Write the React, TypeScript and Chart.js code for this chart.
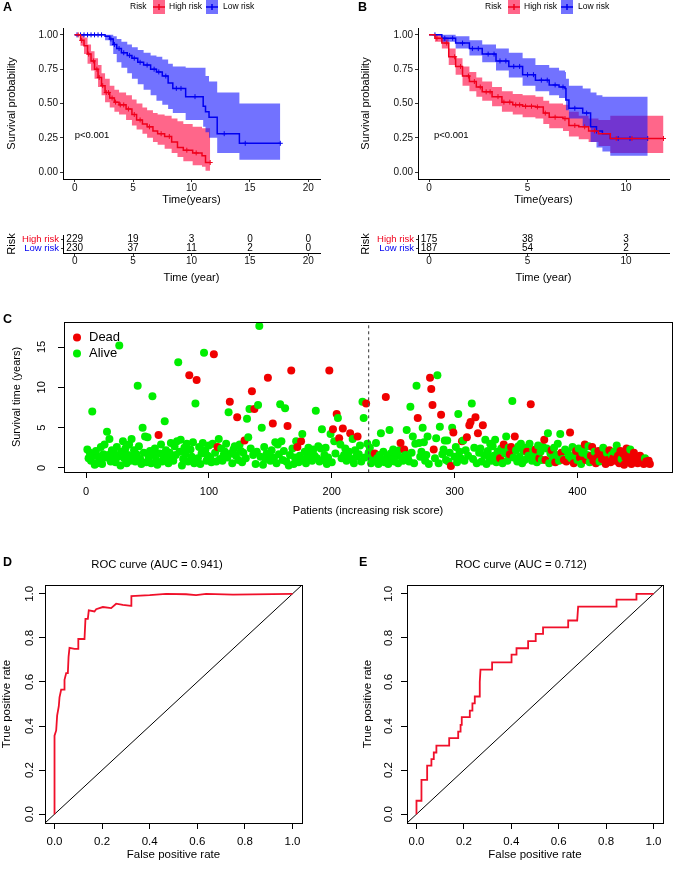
import React, { useEffect, useRef } from "react";
import { Chart, registerables } from "chart.js";

Chart.register(...registerables);

const FONT = '"Liberation Sans", Arial, Helvetica, sans-serif';
Chart.defaults.font.family = FONT;
Chart.defaults.color = "#000";

const RED = "#f0001c";
const BLUE = "#0000f0";
const RED_BAND = "rgba(255,0,60,0.6)";
const BLUE_BAND = "rgba(20,20,255,0.6)";
const DOT_RED = "#f00000";
const DOT_GREEN = "#00ee00";

// ---------- Panel A: Kaplan-Meier (training set) ----------
const aHighTime = [0, 0.5, 0.8, 1.1, 1.4, 1.7, 2.0, 2.3, 2.6, 3.0, 3.4, 3.8, 4.4, 4.9, 5.3, 5.8, 6.2, 6.7, 7.1, 7.7, 8.3, 8.8, 9.3, 10.1, 10.9, 11.2, 11.6];
const aHighSurv = [1, 0.96, 0.92, 0.86, 0.81, 0.75, 0.69, 0.63, 0.58, 0.54, 0.51, 0.49, 0.46, 0.42, 0.38, 0.35, 0.33, 0.3, 0.28, 0.26, 0.22, 0.18, 0.16, 0.14, 0.12, 0.07, 0.07];
const aHighUpper = [1, 1.0, 0.98, 0.93, 0.88, 0.83, 0.78, 0.72, 0.68, 0.63, 0.6, 0.58, 0.56, 0.53, 0.5, 0.47, 0.45, 0.43, 0.42, 0.41, 0.39, 0.37, 0.35, 0.33, 0.32, 0.32, 0.32];
const aHighLower = [1, 0.92, 0.86, 0.79, 0.74, 0.68, 0.62, 0.56, 0.51, 0.47, 0.44, 0.42, 0.38, 0.34, 0.31, 0.28, 0.25, 0.22, 0.2, 0.17, 0.14, 0.11, 0.08, 0.05, 0.04, 0.01, 0.01];
const aHighCensor = [0.3, 0.6, 1.2, 1.6, 1.9, 2.1, 2.4, 2.7, 2.9, 3.2, 3.5, 3.9, 4.2, 4.6, 5.1, 5.6, 6.4, 7.4, 8.1, 9.6, 10.4, 11.6];

const aLowTime = [0, 2.6, 3.0, 3.3, 3.6, 4.0, 4.5, 4.9, 5.4, 5.9, 6.5, 7.0, 7.5, 8.0, 8.4, 9.5, 11.0, 11.2, 11.5, 12.2, 14.1, 17.6];
const aLowSurv = [1, 0.99, 0.97, 0.93, 0.9, 0.87, 0.85, 0.83, 0.8, 0.78, 0.75, 0.73, 0.7, 0.65, 0.61, 0.55, 0.48, 0.44, 0.4, 0.28, 0.21, 0.21];
const aLowUpper = [1, 1, 1, 0.99, 0.97, 0.95, 0.93, 0.91, 0.89, 0.87, 0.85, 0.84, 0.82, 0.79, 0.77, 0.76, 0.76, 0.7, 0.66, 0.58, 0.5, 0.5];
const aLowLower = [1, 0.96, 0.92, 0.86, 0.8, 0.76, 0.72, 0.68, 0.64, 0.6, 0.56, 0.52, 0.49, 0.46, 0.43, 0.38, 0.33, 0.29, 0.25, 0.14, 0.09, 0.09];
const aLowCensor = [0.2, 0.5, 0.8, 1.1, 1.4, 1.7, 2.0, 2.3, 3.1, 3.4, 3.8, 4.2, 4.7, 5.1, 5.6, 6.2, 6.8, 7.2, 7.8, 8.7, 9.1, 10.3, 12.8, 14.6, 17.6];

const riskTimesA = [0, 5, 10, 15, 20];
const riskAHigh = [229, 19, 3, 0, 0];
const riskALow = [230, 37, 11, 2, 0];

// ---------- Panel B: Kaplan-Meier (validation set) ----------
const bHighTime = [0, 0.3, 0.65, 1.0, 1.35, 1.7, 2.05, 2.4, 2.7, 3.2, 3.7, 4.25, 4.75, 5.4, 5.8, 6.1, 6.8, 7.1, 7.6, 8.1, 8.6, 9.2, 11.9];
const bHighSurv = [1, 0.975, 0.94, 0.84, 0.77, 0.7, 0.66, 0.62, 0.585, 0.55, 0.51, 0.49, 0.48, 0.475, 0.43, 0.4, 0.39, 0.34, 0.33, 0.3, 0.28, 0.245, 0.245];
const bHighUpper = [1, 1.0, 0.98, 0.9, 0.83, 0.77, 0.73, 0.69, 0.66, 0.62, 0.59, 0.57, 0.56, 0.55, 0.52, 0.5, 0.49, 0.44, 0.41, 0.39, 0.38, 0.41, 0.41];
const bHighLower = [1, 0.95, 0.9, 0.78, 0.71, 0.63, 0.59, 0.55, 0.52, 0.48, 0.44, 0.42, 0.4, 0.39, 0.35, 0.32, 0.3, 0.26, 0.24, 0.22, 0.19, 0.14, 0.14];
const bHighCensor = [0.4, 0.9, 1.3, 1.6, 2.0, 2.3, 2.6, 2.9, 3.1, 3.5, 3.8, 4.1, 4.4, 4.6, 4.9, 5.2, 5.5, 5.9, 6.4, 6.9, 7.4, 7.9, 8.4, 9.5, 10.3, 11.9];

const bLowTime = [0, 0.65, 1.35, 2.05, 2.7, 3.4, 4.05, 4.75, 5.4, 6.1, 6.6, 6.9, 6.95, 7.1, 7.8, 8.2, 8.5, 8.8, 9.2, 11.1];
const bLowSurv = [1, 0.975, 0.94, 0.9, 0.86, 0.81, 0.77, 0.71, 0.67, 0.635, 0.62, 0.61, 0.525, 0.465, 0.43, 0.33, 0.3, 0.28, 0.245, 0.245];
const bLowUpper = [1, 1.0, 0.99, 0.96, 0.93, 0.9, 0.87, 0.83, 0.78, 0.76, 0.74, 0.73, 0.68, 0.63, 0.61, 0.58, 0.56, 0.55, 0.55, 0.55];
const bLowLower = [1, 0.95, 0.9, 0.85, 0.8, 0.74, 0.69, 0.63, 0.59, 0.56, 0.54, 0.52, 0.45, 0.39, 0.33, 0.22, 0.18, 0.15, 0.12, 0.11];
const bLowCensor = [0.3, 0.8, 1.2, 1.7, 2.2, 2.5, 3.0, 3.3, 3.6, 3.9, 4.3, 4.6, 5.0, 5.3, 5.7, 6.0, 6.4, 6.8, 7.4, 8.0, 8.5, 9.6, 10.2, 11.1];

const riskTimesB = [0, 5, 10];
const riskBHigh = [175, 38, 3];
const riskBLow = [187, 54, 2];

// ---------- Panel C: survival status by patient (ordered by risk score) ----------
const survTime001 = [
  2.3, 1.2, 1.9, 0.9, 7.0, 1.5, 0.4, 2.1, 0.6, 1.4,
  1.1, 2.6, 0.5, 1.7, 2.9, 1.3, 4.5, 1.6, 3.6, 0.8,
  2.2, 1.0, 1.8, 0.7, 2.6, 1.4, 15.2, 0.3, 2.0, 3.3,
  1.2, 2.4, 0.6, 1.6, 2.9, 0.9, 3.6, 1.4, 2.2, 0.8,
  1.7, 10.2, 2.7, 1.1, 0.5, 5.0, 1.9, 3.9, 0.7, 3.8,
  1.3, 2.1, 0.6, 8.9, 1.6, 2.4, 1.0, 0.4, 4.1, 1.8,
  2.9, 0.8, 1.5, 5.8, 2.2, 1.2, 0.6, 1.9, 3.1, 1.4,
  0.9, 2.7, 1.6, 3.3, 13.1, 2.0, 3.5, 0.3, 1.1, 2.5,
  1.7, 3.0, 0.8, 11.5, 2.3, 1.4, 3.2, 0.6, 8.0, 10.9,
  1.2, 2.6, 0.5, 1.8, 3.1, 14.3, 2.2, 0.9, 1.5, 2.8,
];
const survTime101 = [
  1.3, 0.7, 3.0, 14.1, 1.9, 0.8, 2.6, 3.6, 1.1, 2.4,
  0.9, 1.6, 2.0, 3.0, 1.3, 6.9, 8.2, 1.8, 0.6, 2.3,
  2.7, 1.5, 6.3, 1.0, 2.9, 2.1, 0.7, 1.9, 3.4, 1.2,
  6.1, 3.8, 7.3, 2.4, 9.5, 1.6, 7.3, 0.5, 2.0, 7.8,
  17.6, 1.4, 5.0, 0.4, 2.6, 1.1, 1.8, 11.2, 1.5, 0.9,
  2.2, 5.5, 1.3, 3.2, 0.6, 2.9, 1.7, 7.9, 3.3, 1.0,
  2.1, 7.4, 0.8, 5.2, 0.3, 1.6, 12.1, 2.4, 0.5, 1.3,
  3.3, 2.6, 0.7, 1.5, 3.3, 4.2, 1.0, 2.0, 0.6, 1.4,
  2.5, 1.1, 1.8, 0.9, 2.3, 1.5, 7.1, 1.2, 2.7, 0.8,
  2.4, 4.8, 1.0, 1.6, 2.5, 0.5, 1.3, 12.1, 4.2, 0.7,
];
const survTime201 = [
  4.8, 3.3, 1.8, 6.7, 6.2, 3.7, 2.9, 1.2, 4.9, 1.6,
  2.4, 0.9, 1.5, 2.0, 4.3, 1.1, 3.6, 0.6, 2.2, 1.4,
  3.9, 1.7, 2.8, 0.8, 8.2, 6.2, 1.3, 8.0, 3.0, 1.9,
  2.5, 0.6, 1.4, 0.9, 1.8, 3.1, 1.2, 0.5, 1.6, 4.3,
  1.0, 2.0, 0.7, 8.8, 1.4, 0.5, 4.7, 1.8, 1.1, 2.3,
  0.8, 1.5, 1.9, 0.6, 2.2, 3.1, 1.3, 0.9, 2.3, 1.6,
  4.7, 1.2, 0.8, 7.6, 1.9, 3.9, 0.6, 3.0, 10.2, 6.2,
  3.1, 1.4, 2.0, 5.0, 3.2, 0.9, 1.6, 3.9, 0.5, 11.2,
  9.8, 7.8, 2.3, 1.2, 3.7, 11.5, 0.6, 5.1, 6.6, 1.7,
  2.3, 3.4, 1.0, 3.4, 0.8, 1.9, 0.25, 5.0, 4.4, 1.4,
];
const survTime301 = [
  2.6, 0.7, 6.7, 2.0, 1.2, 3.3, 3.4, 0.9, 2.2, 3.8,
  1.5, 5.3, 5.7, 8.0, 1.1, 2.5, 6.3, 0.6, 4.3, 1.9,
  2.4, 0.8, 5.3, 1.6, 3.5, 0.5, 2.1, 1.3, 3.0, 0.9,
  2.7, 1.5, 3.5, 0.7, 2.0, 1.1, 1.2, 2.4, 0.6, 2.9,
  1.8, 3.9, 0.9, 2.5, 1.7, 2.6, 8.3, 1.3, 3.9, 2.2,
  0.8, 2.7, 1.4, 3.0, 0.6, 2.1, 1.0, 2.5, 2.0, 1.5,
  3.0, 7.9, 0.9, 2.2, 1.6, 2.3, 0.7, 2.8, 1.2, 2.0,
  1.0, 2.6, 3.5, 1.0, 2.4, 4.3, 0.6, 1.8, 2.2, 1.3,
  2.5, 0.7, 1.6, 3.0, 0.9, 4.2, 1.9, 1.1, 1.0, 2.3,
  0.8, 2.0, 1.5, 4.4, 1.2, 2.6, 0.6, 1.7, 2.1, 1.0,
];
const survTime401 = [
  2.4, 1.3, 0.5, 1.9, 2.2, 2.9, 1.0, 1.6, 2.7, 0.7,
  1.5, 2.6, 0.9, 2.0, 0.6, 1.3, 2.1, 0.8, 1.7, 1.1,
  2.5, 1.4, 0.5, 1.9, 1.0, 2.2, 0.7, 1.6, 1.2, 2.0,
  0.9, 2.8, 1.5, 0.6, 2.1, 1.1, 1.8, 0.4, 1.3, 2.4,
  0.8, 1.6, 2.3, 0.5, 1.2, 1.9, 0.9, 1.4, 0.6, 1.1,
  1.5, 0.7, 1.0, 0.5, 1.2, 0.8, 0.6, 0.9, 0.5,
];
const deadPatients = [
  59, 84, 90, 104, 107, 117, 123, 129, 135, 137, 148, 152, 164, 167, 172, 175, 198, 201, 204, 206,
  209, 215, 221, 228, 235, 244, 256, 259, 270, 280, 281, 282, 283, 289, 297, 299, 306, 310, 312, 313,
  317, 319, 323, 337, 340, 345, 346, 349, 359, 362, 366, 369, 373, 374, 379, 382, 387, 389, 391, 394,
  397, 399, 402, 406, 407, 411, 412, 413, 415, 416, 417, 419, 420, 422, 423, 425, 426, 427, 429, 431,
  433, 434, 435, 437, 438, 439, 440, 441, 442, 444, 445, 446, 447, 448, 449, 450, 451, 452, 453, 454,
  456, 457, 458, 459,
];
const riskCutoff = 230;
const cXTicks = [0, 100, 200, 300, 400];
const cYTicks = [0, 5, 10, 15];

// ---------- Panels D / E: ROC ----------
const dFpr = [0, 0, 0.007, 0.011, 0.018, 0.021, 0.028, 0.042, 0.042, 0.049, 0.056, 0.059, 0.063, 0.084, 0.1, 0.1, 0.126, 0.13, 0.14, 0.144, 0.168, 0.175, 0.203, 0.238, 0.259, 0.287, 0.322, 0.323, 0.4, 0.469, 0.553, 0.595, 0.637, 0.75, 1.0];
const dTpr = [0, 0.356, 0.38, 0.447, 0.49, 0.53, 0.565, 0.565, 0.61, 0.64, 0.64, 0.714, 0.755, 0.75, 0.75, 0.795, 0.795, 0.886, 0.886, 0.925, 0.92, 0.93, 0.94, 0.935, 0.955, 0.95, 0.945, 0.99, 0.994, 1.0, 0.998, 0.994, 1.0, 0.996, 1.0];
const eFpr = [0, 0, 0.021, 0.021, 0.045, 0.045, 0.063, 0.063, 0.073, 0.073, 0.084, 0.084, 0.138, 0.138, 0.176, 0.176, 0.186, 0.186, 0.191, 0.191, 0.225, 0.225, 0.236, 0.236, 0.246, 0.246, 0.267, 0.267, 0.27, 0.319, 0.319, 0.401, 0.401, 0.422, 0.422, 0.471, 0.471, 0.503, 0.503, 0.534, 0.534, 0.64, 0.64, 0.678, 0.682, 0.844, 0.844, 0.928, 0.928, 1.0];
const eTpr = [0, 0.061, 0.061, 0.156, 0.156, 0.22, 0.22, 0.25, 0.25, 0.28, 0.28, 0.311, 0.311, 0.345, 0.345, 0.375, 0.375, 0.405, 0.405, 0.44, 0.44, 0.47, 0.47, 0.503, 0.503, 0.534, 0.534, 0.6, 0.656, 0.656, 0.689, 0.689, 0.724, 0.724, 0.753, 0.753, 0.785, 0.785, 0.818, 0.818, 0.848, 0.848, 0.879, 0.879, 0.942, 0.942, 0.974, 0.974, 1.0, 1.0];
const rocTicks = [0, 0.2, 0.4, 0.6, 0.8, 1.0];

// ---------- helpers ----------
type Pt = { x: number; y: number };
const pts = (xs: number[], ys: number[]): Pt[] => xs.map((x, i) => ({ x, y: ys[i] }));
const stepAt = (ts: number[], ss: number[], t: number) => {
  let v = ss[0];
  for (let i = 0; i < ts.length; i++) if (ts[i] <= t) v = ss[i];
  return v;
};
const fixedTicks = (values: number[]) => (ax: any) => {
  ax.ticks = values.map((v) => ({ value: v }));
};

function drawText(ctx: CanvasRenderingContext2D, text: string, x: number, y: number, o: any = {}) {
  ctx.save();
  ctx.font = `${o.weight || "normal"} ${o.size || 11}px ${FONT}`;
  ctx.fillStyle = o.color || "#000";
  ctx.textAlign = o.align || "left";
  ctx.textBaseline = o.baseline || "middle";
  ctx.translate(x, y);
  if (o.rotate) ctx.rotate(o.rotate);
  ctx.fillText(text, 0, 0);
  ctx.restore();
}

type Group = { time: number[]; surv: number[]; upper: number[]; lower: number[]; censor: number[]; color: string; band: string };

const ggGrid = { display: true, drawOnChartArea: false, drawTicks: true, tickLength: 3, tickColor: "#333", tickWidth: 1 };
const ggBorder = { display: true, color: "#000", width: 1 };

function kmConfig(c: {
  high: Group; low: Group; xMin: number; xMax: number; xTicks: number[]; yWidth: number; yTitlePad: number;
  padRight: number; letter: string; letterX: number; legendX: number; pX: number;
}): any {
  const lineDs = (g: Group) => ({ data: pts(g.time, g.surv), stepped: true, borderColor: g.color, borderWidth: 1.5, pointRadius: 0, fill: false });
  const censorDs = (g: Group) => ({
    data: g.censor.map((t) => ({ x: t, y: stepAt(g.time, g.surv, t) })),
    showLine: false, pointStyle: "cross", pointRadius: 2.5, borderColor: g.color, pointBorderWidth: 1, borderWidth: 1,
  });
  const upperDs = (g: Group) => ({ data: pts(g.time, g.upper), stepped: true, borderColor: "transparent", borderWidth: 0, pointRadius: 0, fill: "+1", backgroundColor: g.band });
  const lowerDs = (g: Group) => ({ data: pts(g.time, g.lower), stepped: true, borderColor: "transparent", borderWidth: 0, pointRadius: 0, fill: false });

  const deco = {
    id: "kmDeco",
    afterDraw(chart: any) {
      const ctx = chart.ctx as CanvasRenderingContext2D;
      drawText(ctx, c.letter, c.letterX, 8, { size: 12.5, weight: "bold" });
      const x0 = c.legendX;
      drawText(ctx, "Risk", x0, 7, { size: 8.5 });
      const sw = (x: number, g: Group) => {
        ctx.save();
        ctx.fillStyle = g.band;
        ctx.fillRect(x, 0, 12, 14);
        ctx.strokeStyle = g.color;
        ctx.lineWidth = 1.5;
        ctx.beginPath();
        ctx.moveTo(x, 7);
        ctx.lineTo(x + 12, 7);
        ctx.moveTo(x + 6, 4);
        ctx.lineTo(x + 6, 10);
        ctx.stroke();
        ctx.restore();
      };
      sw(x0 + 23, c.high);
      drawText(ctx, "High risk", x0 + 39, 7, { size: 8.5 });
      sw(x0 + 76, c.low);
      drawText(ctx, "Low risk", x0 + 93, 7, { size: 8.5 });
      const xs = chart.scales.x, ys = chart.scales.y;
      drawText(ctx, "p<0.001", xs.getPixelForValue(c.pX), ys.getPixelForValue(0.27), { size: 9.5 });
    },
  };

  return {
    type: "line",
    data: {
      datasets: [lineDs(c.high), lineDs(c.low), censorDs(c.high), censorDs(c.low), upperDs(c.low), lowerDs(c.low), upperDs(c.high), lowerDs(c.high)],
    },
    options: {
      responsive: false, animation: false, devicePixelRatio: 1, events: [],
      layout: { padding: { top: 28, right: c.padRight, left: 0, bottom: 0 } },
      plugins: { legend: { display: false }, tooltip: { enabled: false } },
      scales: {
        x: {
          type: "linear", min: c.xMin, max: c.xMax,
          afterBuildTicks: fixedTicks(c.xTicks),
          afterFit: (s: any) => { s.height = 31; },
          grid: ggGrid, border: ggBorder,
          ticks: { font: { size: 10 }, color: "#111", padding: 0, autoSkip: false, maxRotation: 0 },
          title: { display: true, text: "Time(years)", font: { size: 11 }, color: "#000", padding: { top: 0, bottom: 3.4 } },
        },
        y: {
          type: "linear", min: -0.05, max: 1.05,
          afterBuildTicks: fixedTicks([0, 0.25, 0.5, 0.75, 1]),
          afterFit: (s: any) => { s.width = c.yWidth; },
          grid: ggGrid, border: ggBorder,
          ticks: { font: { size: 10 }, color: "#111", padding: 2, autoSkip: false, callback: (v: any) => Number(v).toFixed(2) },
          title: { display: true, text: "Survival probability", font: { size: 11 }, color: "#000", padding: { top: c.yTitlePad, bottom: 0 } },
        },
      },
    },
    plugins: [deco],
  };
}

function tableConfig(c: { times: number[]; high: number[]; low: number[]; xMin: number; xMax: number; yWidth: number; yTitlePad: number; padRight: number }): any {
  const counts = [c.high, c.low];
  const deco = {
    id: "tblDeco",
    afterDatasetsDraw(chart: any) {
      const ctx = chart.ctx as CanvasRenderingContext2D;
      [0, 1].forEach((di) => {
        chart.getDatasetMeta(di).data.forEach((el: any, j: number) => {
          drawText(ctx, String(counts[di][j]), el.x, el.y, { size: 10, align: "center" });
        });
      });
    },
  };
  return {
    type: "scatter",
    data: {
      datasets: [
        { data: c.times.map((t) => ({ x: t, y: "High risk" })), pointRadius: 0 },
        { data: c.times.map((t) => ({ x: t, y: "Low risk" })), pointRadius: 0 },
      ],
    },
    options: {
      responsive: false, animation: false, devicePixelRatio: 1, events: [],
      layout: { padding: { top: 25, right: c.padRight, left: 0, bottom: 0 } },
      plugins: { legend: { display: false }, tooltip: { enabled: false } },
      scales: {
        x: {
          type: "linear", min: c.xMin, max: c.xMax,
          afterBuildTicks: fixedTicks(c.times),
          afterFit: (s: any) => { s.height = 37; },
          grid: ggGrid, border: ggBorder,
          ticks: { font: { size: 10 }, color: "#111", padding: -1, autoSkip: false, maxRotation: 0 },
          title: { display: true, text: "Time (year)", font: { size: 11 }, color: "#000", padding: { top: 0, bottom: 5.4 } },
        },
        y: {
          type: "category", labels: ["High risk", "Low risk"], offset: true,
          afterFit: (s: any) => { s.width = c.yWidth; },
          grid: { ...ggGrid, offset: false, tickLength: 2 }, border: ggBorder,
          ticks: { font: { size: 9.5 }, padding: 2, autoSkip: false, color: (ctx: any) => (ctx.index === 0 ? RED : BLUE) },
          title: { display: true, text: "Risk", font: { size: 11 }, color: "#000", padding: { top: c.yTitlePad, bottom: 0 } },
        },
      },
    },
    plugins: [deco],
  };
}

const rGrid = { display: true, drawOnChartArea: false, drawTicks: true, tickLength: 6, tickColor: "#000", tickWidth: 1 };

const boxPlugin = {
  id: "rBox",
  afterDraw(chart: any) {
    const { left, top, right, bottom } = chart.chartArea;
    const ctx = chart.ctx as CanvasRenderingContext2D;
    ctx.save();
    ctx.strokeStyle = "#000";
    ctx.lineWidth = 1;
    ctx.strokeRect(Math.round(left) + 0.5, Math.round(top) + 0.5, Math.round(right - left), Math.round(bottom - top));
    ctx.restore();
  },
};

function rYLabelsPlugin(values: number[], fmt: (v: number) => string, x: number, size: number) {
  return {
    id: "rYLabels",
    afterDraw(chart: any) {
      const ys = chart.scales.y;
      values.forEach((v) => drawText(chart.ctx, fmt(v), x, ys.getPixelForValue(v), { size, align: "center", rotate: -Math.PI / 2 }));
    },
  };
}

function scatterConfig(): any {
  const times = [...survTime001, ...survTime101, ...survTime201, ...survTime301, ...survTime401];
  const deadSet = new Set(deadPatients);
  const colors = times.map((_, i) => (deadSet.has(i + 1) ? DOT_RED : DOT_GREEN));
  const deco = {
    id: "cDeco",
    afterDraw(chart: any) {
      const ctx = chart.ctx as CanvasRenderingContext2D;
      drawText(ctx, "C", 3, 20, { size: 12.5, weight: "bold" });
      const items: [string, string, number][] = [["Dead", DOT_RED, 37.5], ["Alive", DOT_GREEN, 53.5]];
      items.forEach(([label, col, y]) => {
        ctx.save();
        ctx.fillStyle = col;
        ctx.beginPath();
        ctx.arc(77, y, 4, 0, Math.PI * 2);
        ctx.fill();
        ctx.restore();
        drawText(ctx, label, 89, y, { size: 13 });
      });
    },
  };
  return {
    type: "scatter",
    data: {
      datasets: [
        { type: "line", data: [{ x: riskCutoff, y: -5 }, { x: riskCutoff, y: 30 }], borderColor: "#555", borderDash: [3, 3], borderWidth: 1.2, pointRadius: 0, clip: 0, fill: false },
        { data: times.map((t, i) => ({ x: i + 1, y: t })), backgroundColor: colors, pointRadius: 4, borderWidth: 0, pointBorderWidth: 0 },
      ],
    },
    options: {
      responsive: false, animation: false, devicePixelRatio: 1, events: [],
      layout: { padding: { top: 22, right: 3, left: 0, bottom: 0 } },
      plugins: { legend: { display: false }, tooltip: { enabled: false } },
      scales: {
        x: {
          type: "linear", min: -18, max: 477,
          afterBuildTicks: fixedTicks(cXTicks),
          afterFit: (s: any) => { s.height = 48; },
          grid: rGrid, border: { display: false },
          ticks: { font: { size: 11 }, color: "#000", padding: 7.4, autoSkip: false, maxRotation: 0 },
          title: { display: true, text: "Patients (increasing risk score)", font: { size: 11 }, color: "#000", padding: { top: 0, bottom: 2.4 } },
        },
        y: {
          type: "linear", min: -0.5, max: 18.1,
          afterBuildTicks: fixedTicks(cYTicks),
          afterFit: (s: any) => { s.width = 64; },
          grid: rGrid, border: { display: false },
          ticks: { display: false },
          title: { display: true, text: "Survival time (years)", font: { size: 11 }, color: "#000", padding: { top: 10.4, bottom: 0 } },
        },
      },
    },
    plugins: [boxPlugin, rYLabelsPlugin(cYTicks, (v) => String(v), 42, 11), deco],
  };
}

function rocConfig(c: { fpr: number[]; tpr: number[]; auc: string; letter: string; letterX: number; titleX: number; yWidth: number; padRight: number; yTitlePad: number; yLabelX: number }): any {
  const deco = {
    id: "rocDeco",
    afterDraw(chart: any) {
      const ctx = chart.ctx as CanvasRenderingContext2D;
      drawText(ctx, c.letter, c.letterX, 43, { size: 12.5, weight: "bold" });
      drawText(ctx, `ROC curve (AUC = ${c.auc})`, c.titleX, 45, { size: 11.3, align: "center" });
    },
  };
  return {
    type: "line",
    data: {
      datasets: [
        { data: pts(c.fpr, c.tpr), borderColor: "#f0102a", borderWidth: 1.8, pointRadius: 0, fill: false },
        { data: [{ x: -1, y: -1 }, { x: 2, y: 2 }], borderColor: "#000", borderWidth: 1, pointRadius: 0, clip: 0, fill: false },
      ],
    },
    options: {
      responsive: false, animation: false, devicePixelRatio: 1, events: [],
      layout: { padding: { top: 65, right: c.padRight, left: 0, bottom: 0 } },
      plugins: { legend: { display: false }, tooltip: { enabled: false } },
      scales: {
        x: {
          type: "linear", min: -0.04, max: 1.04,
          afterBuildTicks: fixedTicks(rocTicks),
          afterFit: (s: any) => { s.height = 48; },
          grid: rGrid, border: { display: false },
          ticks: { font: { size: 11.5 }, color: "#000", padding: 6.1, autoSkip: false, maxRotation: 0, callback: (v: any) => Number(v).toFixed(1) },
          title: { display: true, text: "False positive rate", font: { size: 11.5 }, color: "#000", padding: { top: 0, bottom: 9.1 } },
        },
        y: {
          type: "linear", min: -0.04, max: 1.04,
          afterBuildTicks: fixedTicks(rocTicks),
          afterFit: (s: any) => { s.width = c.yWidth; },
          grid: rGrid, border: { display: false },
          ticks: { display: false },
          title: { display: true, text: "True positive rate", font: { size: 11.5 }, color: "#000", padding: { top: c.yTitlePad, bottom: 0 } },
        },
      },
    },
    plugins: [boxPlugin, rYLabelsPlugin(rocTicks, (v) => v.toFixed(1), c.yLabelX, 11.5), deco],
  };
}

const makeA = () =>
  kmConfig({
    high: { time: aHighTime, surv: aHighSurv, upper: aHighUpper, lower: aHighLower, censor: aHighCensor, color: RED, band: RED_BAND },
    low: { time: aLowTime, surv: aLowSurv, upper: aLowUpper, lower: aLowLower, censor: aLowCensor, color: BLUE, band: BLUE_BAND },
    xMin: -1, xMax: 21, xTicks: [0, 5, 10, 15, 20], yWidth: 63, yTitlePad: 5.4, padRight: 16,
    letter: "A", letterX: 3, legendX: 130, pX: 0,
  });
const makeB = () =>
  kmConfig({
    high: { time: bHighTime, surv: bHighSurv, upper: bHighUpper, lower: bHighLower, censor: bHighCensor, color: RED, band: RED_BAND },
    low: { time: bLowTime, surv: bLowSurv, upper: bLowUpper, lower: bLowLower, censor: bLowCensor, color: BLUE, band: BLUE_BAND },
    xMin: -0.56, xMax: 12.18, xTicks: [0, 5, 10], yWidth: 82, yTitlePad: 23.4, padRight: 7,
    letter: "B", letterX: 22, legendX: 149, pX: 0.25,
  });
const makeTA = () => tableConfig({ times: riskTimesA, high: riskAHigh, low: riskALow, xMin: -1, xMax: 21, yWidth: 63, yTitlePad: 5.4, padRight: 16 });
const makeTB = () => tableConfig({ times: riskTimesB, high: riskBHigh, low: riskBLow, xMin: -0.56, xMax: 12.18, yWidth: 82, yTitlePad: 23.4, padRight: 7 });
const makeC = () => scatterConfig();
const makeD = () => rocConfig({ fpr: dFpr, tpr: dTpr, auc: "0.941", letter: "D", letterX: 3, titleX: 157, yWidth: 45, padRight: 34, yTitlePad: 0.1, yLabelX: 30 });
const makeE = () => rocConfig({ fpr: eFpr, tpr: eTpr, auc: "0.712", letter: "E", letterX: 23, titleX: 185, yWidth: 71, padRight: 13, yTitlePad: 25.1, yLabelX: 53 });

function ChartBox({ left, top, width, height, make }: { left: number; top: number; width: number; height: number; make: () => any }) {
  const ref = useRef<HTMLCanvasElement | null>(null);
  useEffect(() => {
    if (!ref.current) return;
    const chart = new Chart(ref.current, make());
    return () => chart.destroy();
  }, [make]);
  return (
    <div style={{ position: "absolute", left, top, width, height }}>
      <canvas ref={ref} width={width} height={height} style={{ width, height, display: "block" }} />
    </div>
  );
}

export default function App() {
  return (
    <div style={{ position: "absolute", left: 0, top: 0, width: 676, height: 871, background: "#fff", overflow: "hidden" }}>
      <ChartBox left={0} top={0} width={336} height={210} make={makeA} />
      <ChartBox left={336} top={0} width={340} height={210} make={makeB} />
      <ChartBox left={0} top={210} width={336} height={80} make={makeTA} />
      <ChartBox left={336} top={210} width={340} height={80} make={makeTB} />
      <ChartBox left={0} top={300} width={676} height={220} make={makeC} />
      <ChartBox left={0} top={520} width={336} height={351} make={makeD} />
      <ChartBox left={336} top={520} width={340} height={351} make={makeE} />
    </div>
  );
}
